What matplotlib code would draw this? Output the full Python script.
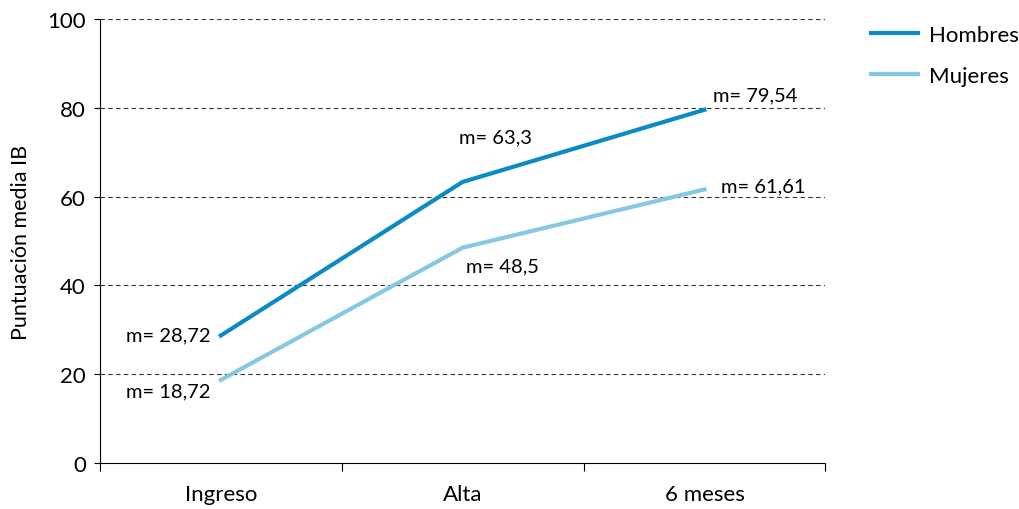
import matplotlib
matplotlib.use("Agg")
import matplotlib.pyplot as plt
from matplotlib.ticker import FixedLocator

plt.rcParams['font.family'] = ['Lato', 'DejaVu Sans']

etapas = ["Ingreso", "Alta", "6 meses"]
hombres = [28.72, 63.3, 79.54]
mujeres = [18.72, 48.5, 61.61]
etiquetas_h = ["m= 28,72", "m= 63,3", "m= 79,54"]
etiquetas_m = ["m= 18,72", "m= 48,5", "m= 61,61"]

c_h = "#0a8bc3"
c_m = "#84c8e3"

fig = plt.figure(figsize=(10.19, 5.10), dpi=100)
ax = fig.add_axes([0.098, 0.090, 0.712, 0.871])

x = list(range(len(etapas)))
ax.plot(x, hombres, color=c_h, lw=3, label="Hombres", zorder=3)
ax.plot(x, mujeres, color=c_m, lw=3, label="Mujeres", zorder=3)

ax.set_xlim(-0.5, 2.5)
ax.set_ylim(0, 100)
ax.set_yticks(range(0, 101, 20))
ax.set_xticks(x)
ax.set_xticklabels(etapas)
ax.xaxis.set_minor_locator(FixedLocator([-0.5, 0.5, 1.5, 2.5]))
ax.tick_params(axis='x', which='major', length=0, pad=15, labelsize=16)
ax.tick_params(axis='x', which='minor', length=6, width=0.8)
ax.tick_params(axis='y', length=4, width=0.8, labelsize=16, pad=6)

for y in range(20, 101, 20):
    ax.axhline(y, color="#333333", lw=0.8, ls=(0, (4, 3)), zorder=1)

for s in ["top", "right"]:
    ax.spines[s].set_visible(False)
for s in ["left", "bottom"]:
    ax.spines[s].set_linewidth(0.8)

ax.set_ylabel("Puntuación media IB", fontsize=15.5, labelpad=12)

# etiquetas de valores medios (desplazamientos en píxeles)
fs = 14.5
offsets_h = [(-10, 1, "right"), (33, 45, "center"), (51, 15, "center")]
offsets_m = [(-10, -11, "right"), (40, -18, "center"), (17, 4, "left")]
for i in x:
    dx, dy, ha = offsets_h[i]
    ax.annotate(etiquetas_h[i], (i, hombres[i]), xytext=(dx, dy),
                textcoords="offset pixels", ha=ha, va="center", fontsize=fs)
    dx, dy, ha = offsets_m[i]
    ax.annotate(etiquetas_m[i], (i, mujeres[i]), xytext=(dx, dy),
                textcoords="offset pixels", ha=ha, va="center", fontsize=fs)

fig.legend(loc="upper left", bbox_to_anchor=(0.846, 0.967), frameon=False,
           fontsize=16, handlelength=2.1, labelspacing=0.95, handletextpad=0.5,
           borderaxespad=0)

fig.savefig("out.png", dpi=100)
